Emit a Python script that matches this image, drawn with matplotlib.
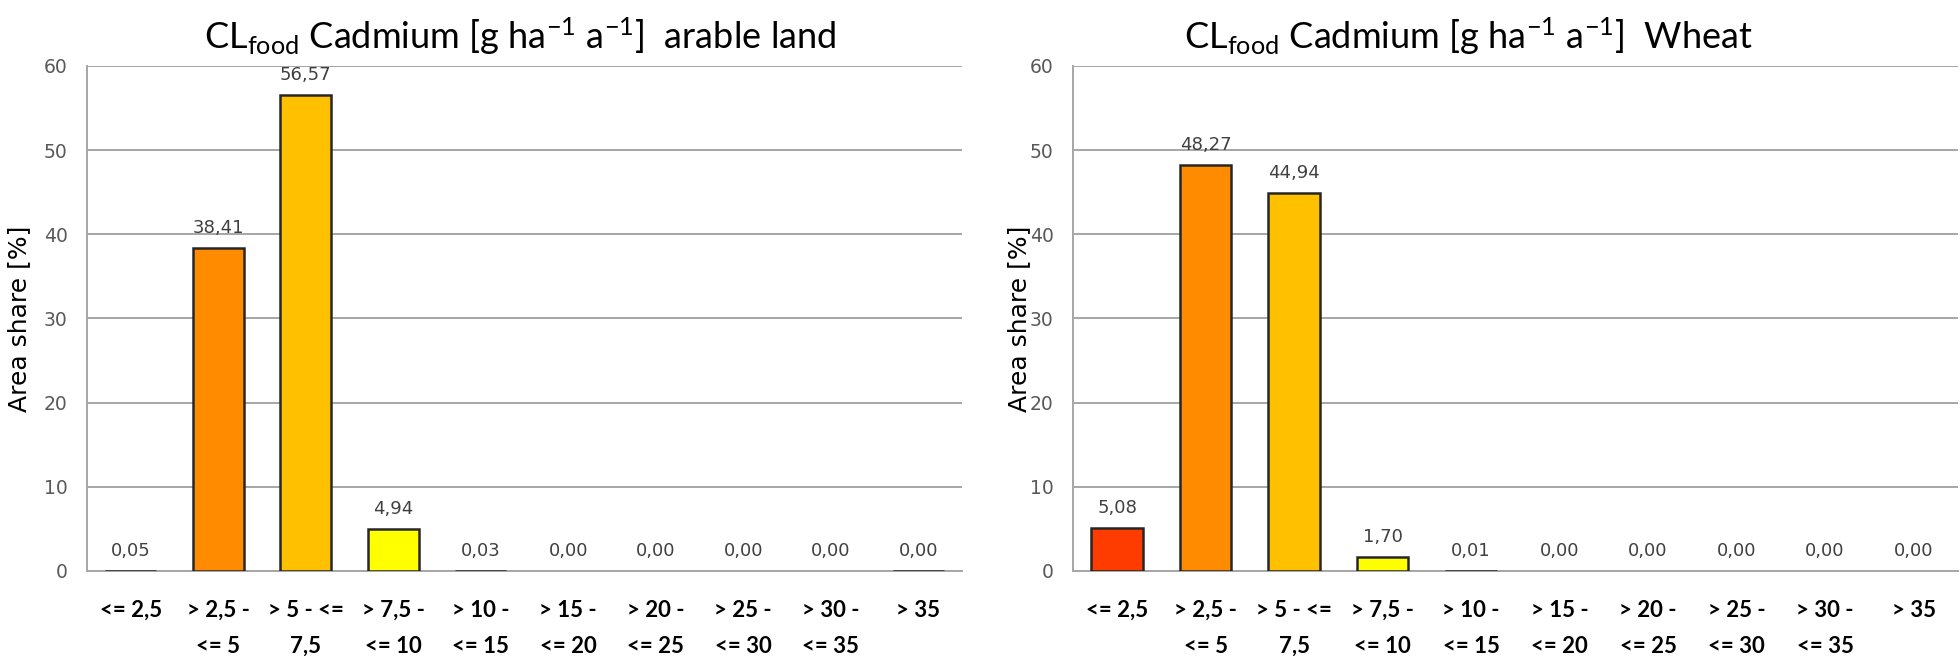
import numpy as np
import matplotlib
matplotlib.use("Agg")
import matplotlib.pyplot as plt

plt.rcParams['mathtext.fontset'] = 'custom'
plt.rcParams['mathtext.rm'] = 'Lato'
plt.rcParams['mathtext.it'] = 'Lato'
plt.rcParams['mathtext.bf'] = 'Lato:bold'
plt.rcParams['mathtext.default'] = 'regular'

categories = ["<= 2,5", "> 2,5 -\n<= 5", "> 5 - <=\n7,5", "> 7,5 -\n<= 10", "> 10 -\n<= 15",
              "> 15 -\n<= 20", "> 20 -\n<= 25", "> 25 -\n<= 30", "> 30 -\n<= 35", "> 35"]
arable = [0.05, 38.41, 56.57, 4.94, 0.03, 0.0, 0.0, 0.0, 0.0, 0.004]
wheat = [5.08, 48.27, 44.94, 1.70, 0.01, 0.0, 0.0, 0.0, 0.0, 0.0]
bar_colors = ["#FF3C00", "#FF8C00", "#FFC000", "#FFFF00", "#92D050",
              "#00B050", "#00B0F0", "#0070C0", "#002060", "#7030A0"]

titles = [r"CL$_{food}$ Cadmium [g ha$^{-1}$ a$^{-1}$]  arable land",
          r"CL$_{food}$ Cadmium [g ha$^{-1}$ a$^{-1}$]  Wheat"]

fig = plt.figure(figsize=(19.6, 6.56), dpi=100)
ax1 = fig.add_axes([0.0444, 0.1296, 0.4464, 0.7698])
ax2 = fig.add_axes([0.5474, 0.1296, 0.4515, 0.7698])

title_x = [520 / 1960, 1469 / 1960]
ylab_x = [19 / 1960, 1019 / 1960]

for i, (ax, vals) in enumerate([(ax1, arable), (ax2, wheat)]):
    x = np.arange(len(categories))
    edges = ["#262626" if v > 0 else "none" for v in vals]
    ax.bar(x, vals, width=0.58, color=bar_colors, edgecolor=edges, linewidth=1.8, zorder=3)
    for xi, v in zip(x, vals):
        ax.text(xi, v + 1.3, f"{v:.2f}".replace(".", ","), ha="center", va="bottom",
                fontsize=13, color="#404040", family="DejaVu Sans")
    ax.set_xlim(-0.5, 9.5)
    ax.set_ylim(0, 60)
    ax.set_yticks(range(0, 61, 10))
    ax.set_xticks(x)
    ax.set_xticklabels(categories, fontsize=16, fontweight="bold",
                       family="Lato", linespacing=1.85)
    ax.tick_params(axis="both", length=0)
    ax.tick_params(axis="x", pad=21)
    ax.tick_params(axis="y", pad=14, labelsize=13.5, labelcolor="#595959")
    ax.grid(axis="y", color="#A6A6A6", linewidth=1.4, zorder=0)
    for s in ["top", "right"]:
        ax.spines[s].set_visible(False)
    for s in ["left", "bottom"]:
        ax.spines[s].set_color("#A6A6A6")
        ax.spines[s].set_linewidth(1.4)
    fig.text(ylab_x[i], 0.1296 + 0.7698 / 2, "Area share [%]", rotation=90,
             ha="center", va="center", fontsize=18, family="DejaVu Sans")
    fig.text(title_x[i], 1 - 36 / 656, titles[i], ha="center", va="center",
             fontsize=26, family="Lato")

fig.savefig("out.png", dpi=100)
